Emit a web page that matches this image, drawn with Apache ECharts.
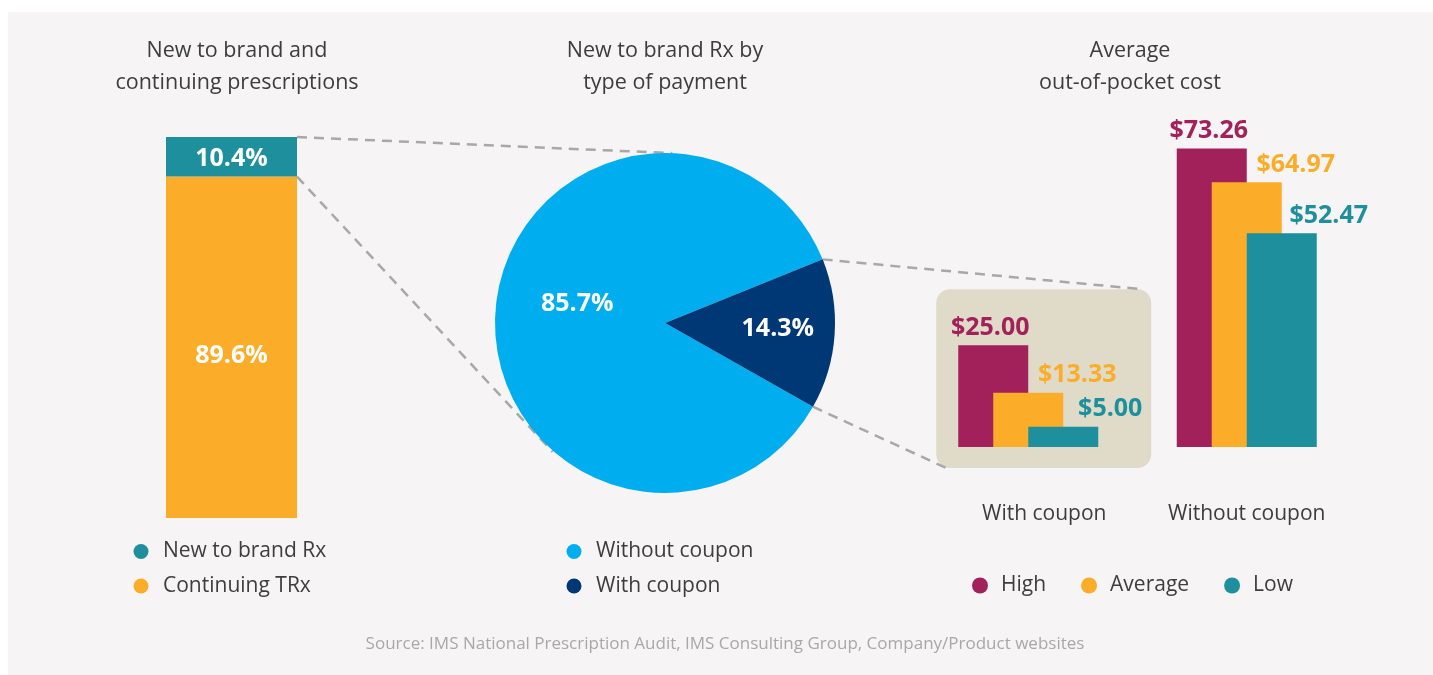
<!DOCTYPE html>
<html>
<head>
<meta charset="utf-8">
<script src="https://cdn.jsdelivr.net/npm/echarts@6/dist/echarts.min.js"></script>
<style>
  html, body { margin: 0; padding: 0; background: #ffffff; }
  #chart { width: 1433px; height: 675px; }
</style>
</head>
<body>
<div id="chart"></div>
<script>
// ---- data ----
const shareNames = ['New to brand Rx', 'Continuing TRx'];
const shareValues = [10.4, 89.6];

const paymentNames = ['Without coupon', 'With coupon'];
const paymentValues = [85.7, 14.3];

const costCategories = ['With coupon', 'Without coupon'];
const costTiers = ['High', 'Average', 'Low'];
const costHigh = [25.00, 73.26];
const costAverage = [13.33, 64.97];
const costLow = [5.00, 52.47];

// ---- styling / layout ----
const FONT = 'Open Sans';
const COL = {
  teal: '#1e8f9c', orange: '#fbad29', magenta: '#a3215b',
  sky: '#00aeef', navy: '#003876', box: '#dfdbc8',
  panel: '#f6f4f5', text: '#3d3d3d', note: '#a8a8a8', dash: '#a8a8a8'
};
const shareGrid = { left: 166, top: 137, width: 131, height: 381 };
const pieCenter = [665, 323];
const pieRadius = 170;
const pieStart = 330.5;
const costGrid = { left: 919, top: 121, width: 437, height: 326 };
const costBarWidth = 70;
const LABEL_SIZE = 25;
const TEXT_SIZE = 21;

const chart = echarts.init(document.getElementById('chart'), null, { renderer: 'canvas' });

const bold = (color, size) => ({ color: color, fontFamily: FONT, fontWeight: 'bold', fontSize: size });

function costSeries(name, values, color, offset) {
  return {
    type: 'bar', name: name, xAxisIndex: 1, yAxisIndex: 1,
    data: values, barWidth: costBarWidth, barGap: '-50%',
    itemStyle: { color: color }, silent: true,
    label: Object.assign({
      show: true, position: 'top', distance: 5, offset: offset,
      formatter: p => '$' + p.value.toFixed(2)
    }, bold(color, LABEL_SIZE))
  };
}

const legendText = { color: COL.text, fontFamily: FONT, fontSize: TEXT_SIZE, lineHeight: 20, padding: [0, 0, 0, 9.5] };
const titleStyle = { fill: COL.text, fontFamily: FONT, fontSize: 21.5, align: 'center', verticalAlign: 'middle', lineHeight: 32 };

chart.setOption({
  backgroundColor: '#ffffff',
  animation: false,
  textStyle: { fontFamily: FONT },
  grid: [
    Object.assign({}, shareGrid),
    Object.assign({}, costGrid)
  ],
  xAxis: [
    { gridIndex: 0, type: 'category', data: ['Rx'], show: false },
    {
      gridIndex: 1, type: 'category', data: costCategories,
      axisLine: { show: false }, axisTick: { show: false },
      axisLabel: {
        interval: 0, margin: 57, color: COL.text, fontFamily: FONT, fontSize: TEXT_SIZE,
        formatter: (v, i) => i === 0 ? '{a|' + v + '}' : '{b|' + v + '}',
        rich: {
          a: { color: COL.text, fontFamily: FONT, fontSize: TEXT_SIZE, padding: [0, 0, 0, 32] },
          b: { color: COL.text, fontFamily: FONT, fontSize: TEXT_SIZE }
        }
      }
    }
  ],
  yAxis: [
    { gridIndex: 0, type: 'value', min: 0, max: 100, show: false },
    { gridIndex: 1, type: 'value', min: 0, max: 80, show: false }
  ],
  legend: [
    {
      data: shareNames, orient: 'vertical', left: 133.5, top: 541, padding: 0,
      icon: 'circle', itemWidth: 15, itemHeight: 15, itemGap: 13.5, selectedMode: false,
      textStyle: legendText
    },
    {
      data: paymentNames, orient: 'vertical', left: 566.5, top: 541, padding: 0,
      icon: 'circle', itemWidth: 15, itemHeight: 15, itemGap: 13.5, selectedMode: false,
      textStyle: legendText
    },
    {
      data: costTiers, orient: 'horizontal', left: 972, top: 575, padding: 0,
      icon: 'circle', itemWidth: 16, itemHeight: 16, itemGap: 35, selectedMode: false,
      textStyle: Object.assign({}, legendText, { padding: [0, 0, 0, 8] })
    }
  ],
  series: [
    {
      type: 'bar', name: shareNames[1], xAxisIndex: 0, yAxisIndex: 0, stack: 'rx',
      barWidth: '100%', data: [shareValues[1]], silent: true,
      itemStyle: { color: COL.orange },
      label: Object.assign({ show: true, position: 'inside', offset: [0, 9], formatter: '{c}%' }, bold('#ffffff', LABEL_SIZE))
    },
    {
      type: 'bar', name: shareNames[0], xAxisIndex: 0, yAxisIndex: 0, stack: 'rx',
      barWidth: '100%', data: [shareValues[0]], silent: true,
      itemStyle: { color: COL.teal },
      label: Object.assign({ show: true, position: 'inside', offset: [0, 2], formatter: '{c}%' }, bold('#ffffff', LABEL_SIZE))
    },
    {
      type: 'pie', name: 'Payment', center: pieCenter, radius: pieRadius,
      startAngle: pieStart, clockwise: true, silent: true,
      data: paymentNames.map((n, i) => ({ name: n, value: paymentValues[i] })),
      color: [COL.sky, COL.navy],
      itemStyle: { borderWidth: 0 },
      label: Object.assign({ show: true, position: 'inside', formatter: '{c}%' }, bold('#ffffff', LABEL_SIZE)),
      labelLine: { show: false },
      labelLayout: p => p.dataIndex === 0 ? { dx: 0, dy: -6.5 } : { dx: 12.5, dy: 0 }
    },
    costSeries(costTiers[0], costHigh, COL.magenta, [-3, 0]),
    costSeries(costTiers[1], costAverage, COL.orange, [49, 0]),
    costSeries(costTiers[2], costLow, COL.teal, [47, 0])
  ]
});

// ---- connector lines and inset box, derived from the chart's own geometry ----
function tangentPoints(p, c, r) {
  const dx = p[0] - c[0], dy = p[1] - c[1];
  const d = Math.hypot(dx, dy);
  const phi = Math.atan2(dy, dx);
  const a = Math.acos(r / d);
  return [
    [c[0] + r * Math.cos(phi + a), c[1] + r * Math.sin(phi + a)],
    [c[0] + r * Math.cos(phi - a), c[1] + r * Math.sin(phi - a)]
  ];
}
const extend = (a, b, k) => [a[0] + (b[0] - a[0]) * k, a[1] + (b[1] - a[1]) * k];

const shareRight = shareGrid.left + shareGrid.width;
const shareTop = chart.convertToPixel({ gridIndex: 0 }, [0, 100])[1];
const shareSplit = chart.convertToPixel({ gridIndex: 0 }, [0, shareValues[1]])[1];

const upperTan = tangentPoints([shareRight, shareTop], pieCenter, pieRadius)[0];
const lowerTan = tangentPoints([shareRight, shareSplit], pieCenter, pieRadius)[1];

// edges of the "With coupon" slice (clockwise from pieStart)
const total = paymentValues.reduce((a, b) => a + b, 0);
const sliceStart = (pieStart - 360 * paymentValues[0] / total) * Math.PI / 180;
const sliceEnd = (pieStart - 360) * Math.PI / 180;
const edgeTop = [pieCenter[0] + pieRadius * Math.cos(sliceStart), pieCenter[1] - pieRadius * Math.sin(sliceStart)];
const edgeBottom = [pieCenter[0] + pieRadius * Math.cos(sliceEnd), pieCenter[1] - pieRadius * Math.sin(sliceEnd)];

// inset box around the "With coupon" bar group
const groupBase = chart.convertToPixel({ xAxisIndex: 1, yAxisIndex: 1 }, [0, 0]);
const highTop = chart.convertToPixel({ xAxisIndex: 1, yAxisIndex: 1 }, [0, costHigh[0]])[1];
const boxX0 = groupBase[0] - costBarWidth - 22;
const boxX1 = groupBase[0] + costBarWidth + 53;
const boxY0 = highTop - 56;
const boxY1 = groupBase[1] + 21;

const dashStyle = { stroke: COL.dash, lineWidth: 2.5, lineDash: [10, 7] };
const line = (a, b) => ({ type: 'line', z: 1, silent: true, shape: { x1: a[0], y1: a[1], x2: b[0], y2: b[1] }, style: dashStyle });

chart.setOption({
  graphic: [
    { type: 'rect', z: 0, silent: true, shape: { x: 8, y: 12, width: 1425, height: 663 }, style: { fill: COL.panel } },
    { type: 'rect', z: 1, silent: true, shape: { x: boxX0, y: boxY0, width: boxX1 - boxX0, height: boxY1 - boxY0, r: 14 }, style: { fill: COL.box } },
    line([shareRight, shareTop], upperTan),
    line([shareRight, shareSplit], extend([shareRight, shareSplit], lowerTan, 1.05)),
    line(edgeTop, [boxX1 - 10, boxY0]),
    line(edgeBottom, [boxX0 + 10, boxY1]),
    { type: 'text', z: 5, x: 237, y: 67, style: Object.assign({ text: 'New to brand and\ncontinuing prescriptions' }, titleStyle) },
    { type: 'text', z: 5, x: 665, y: 67, style: Object.assign({ text: 'New to brand Rx by\ntype of payment' }, titleStyle) },
    { type: 'text', z: 5, x: 1130, y: 67, style: Object.assign({ text: 'Average\nout-of-pocket cost' }, titleStyle) },
    { type: 'text', z: 5, x: 725, y: 644, style: { text: 'Source: IMS National Prescription Audit, IMS Consulting Group, Company/Product websites', fill: COL.note, fontFamily: FONT, fontSize: 17, align: 'center', verticalAlign: 'middle' } }
  ]
});
</script>
</body>
</html>
